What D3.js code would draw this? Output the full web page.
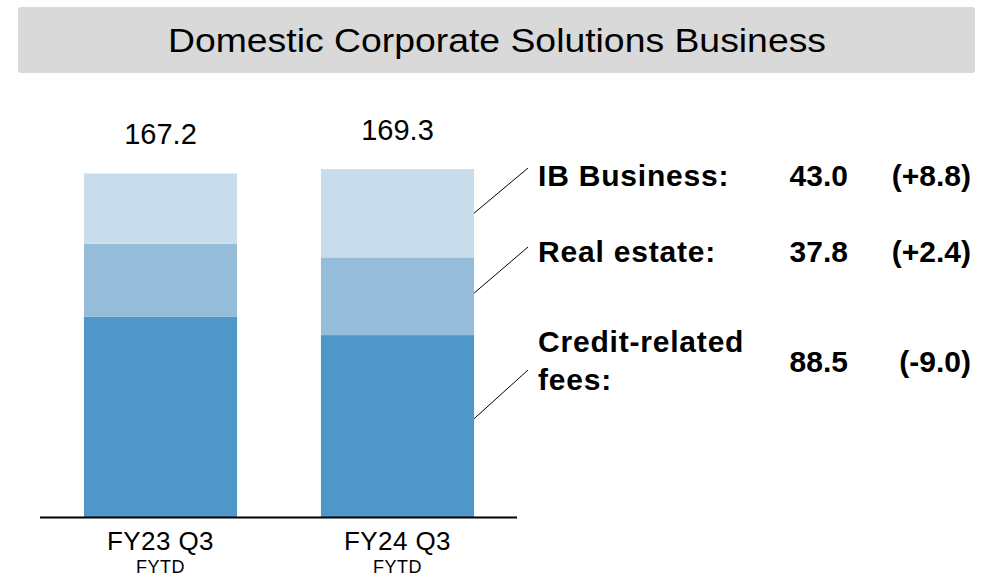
<!DOCTYPE html>
<html><head><meta charset="utf-8">
<script src="https://cdn.jsdelivr.net/npm/d3@7"></script>
<style>body{margin:0;background:#fff}svg{display:block}text{font-family:Arial,"Liberation Sans",sans-serif}</style>
</head><body><svg id="c" width="988" height="577"></svg>
<script>
const categories = ["FY23 Q3", "FY24 Q3"];
const subLabels = ["FYTD", "FYTD"];
const segments = ["Credit-related fees", "Real estate", "IB Business"];
const creditFees = [97.5, 88.5];
const realEstate = [35.4, 37.8];
const ibBusiness = [34.2, 43.0];
const totals = [167.2, 169.3];
const legendNames = [["IB Business:"], ["Real estate:"], ["Credit-related", "fees:"]];
const legendValues = ["43.0", "37.8", "88.5"];
const legendChanges = ["(+8.8)", "(+2.4)", "(-9.0)"];
const colors = ["#4f96c9", "#95bcd9", "#c9dcec"];

const svg = d3.select("#c");
svg.append("rect").attr("x",18).attr("y",7).attr("width",957).attr("height",66).attr("rx",3).attr("fill","#d9d9d9");
svg.append("text").attr("x",497).attr("y",52).attr("text-anchor","middle").attr("font-size",33).attr("fill","#000")
  .attr("textLength",658).attr("lengthAdjust","spacingAndGlyphs").text("Domestic Corporate Solutions Business");

const x = d3.scaleBand().domain(categories).range([42,516]).paddingInner(0.354).paddingOuter(0.177);
const y = d3.scaleLinear().domain([0,169.3]).range([517,169]);

const rows = categories.map((c,i)=>({cat:c, [segments[0]]:creditFees[i], [segments[1]]:realEstate[i], [segments[2]]:ibBusiness[i]}));
const stack = d3.stack().keys(segments)(rows);
svg.append("g").selectAll("g").data(stack).join("g").attr("fill",(d,i)=>colors[i])
  .selectAll("rect").data(d=>d).join("rect")
  .attr("x",d=>x(d.data.cat)).attr("width",x.bandwidth())
  .attr("y",d=>y(d[1])).attr("height",d=>y(d[0])-y(d[1]));

svg.append("line").attr("x1",40).attr("x2",517).attr("y1",517.5).attr("y2",517.5).attr("stroke","#000").attr("stroke-width",2);

categories.forEach((c,i)=>{
  const cx = x(c)+x.bandwidth()/2;
  svg.append("text").attr("x",cx).attr("y",550).attr("text-anchor","middle").attr("font-size",26).attr("letter-spacing",0.4).text(c);
  svg.append("text").attr("x",cx).attr("y",573).attr("text-anchor","middle").attr("font-size",18).attr("letter-spacing",0.5).text(subLabels[i]);
  svg.append("text").attr("x",cx).attr("y",y(totals[i])-29).attr("text-anchor","middle").attr("font-size",29).text(totals[i].toFixed(1));
});

// leader lines from the FY24 bar
const bx = x(categories[1])+x.bandwidth();
const last = stack.map(s=>s[1]);
const fr = [0.5, 0.54, 0.54];
const segIdx = [2, 1, 0];
const leaderEnd = [168, 247, 370];
const textY = [186, 262, 352];
segIdx.forEach((k,i)=>{
  const s = y(last[k][0] + (last[k][1]-last[k][0])*fr[i]);
  svg.append("line").attr("x1",bx).attr("y1",s).attr("x2",528).attr("y2",leaderEnd[i]).attr("stroke","#000").attr("stroke-width",1);
});
legendNames.forEach((lines,i)=>{
  lines.forEach((t,j)=>{
    svg.append("text").attr("x",538).attr("y",textY[i]+j*38).attr("font-size",30).attr("letter-spacing",0.8).attr("font-weight","bold").text(t);
  });
  const vy = lines.length>1 ? textY[i]+20 : textY[i];
  svg.append("text").attr("x",848).attr("y",vy).attr("text-anchor","end").attr("font-size",30).attr("font-weight","bold").text(legendValues[i]);
  svg.append("text").attr("x",971).attr("y",vy).attr("text-anchor","end").attr("font-size",30).attr("font-weight","bold").text(legendChanges[i]);
});
</script></body></html>
